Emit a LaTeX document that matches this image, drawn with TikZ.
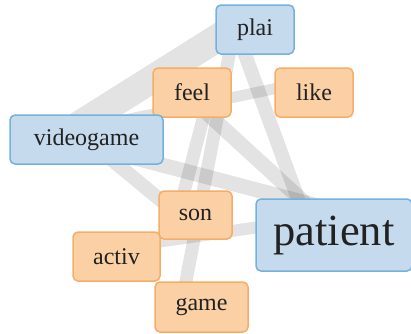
\documentclass[tikz,border=0pt]{standalone}
\usepackage{fontspec}
\setmainfont{Liberation Serif}
\pgfdeclarelayer{background}
\pgfsetlayers{background,main}
\definecolor{bluefill}{HTML}{C6DAEE}
\definecolor{blueline}{HTML}{74B2DC}
\definecolor{orangefill}{HTML}{FAD0A4}
\definecolor{orangeline}{HTML}{F6AD68}
\definecolor{wordcol}{HTML}{222222}
\tikzset{
  termbox/.style={rectangle, rounded corners=5pt, line width=1.5pt, inner sep=0pt,
    text=wordcol, font=\fontsize{24}{28}\selectfont},
  bluebox/.style={termbox, fill=bluefill, draw=blueline},
  orangebox/.style={termbox, fill=orangefill, draw=orangeline},
  link/.style={draw=black, opacity=0.11, line cap=butt},
}
\begin{document}
\begin{tikzpicture}[x=1pt,y=-1pt]
\useasboundingbox (0,0) rectangle (411,333);
% terms
\node[bluebox, minimum width=78pt, minimum height=49pt] (plai) at (255,29.5) {plai};
\node[orangebox, minimum width=78pt, minimum height=49pt] (feel) at (192,92.5) {feel};
\node[orangebox, minimum width=78pt, minimum height=49pt] (like) at (314,92.5) {like};
\node[bluebox, minimum width=153pt, minimum height=49pt] (videogame) at (86.5,139.5) {videogame};
\node[orangebox, minimum width=73pt, minimum height=48pt] (son) at (195.5,215) {son};
\node[orangebox, minimum width=87pt, minimum height=49pt] (activ) at (116.5,256.5) {activ};
\node[orangebox, minimum width=93pt, minimum height=50pt] (game) at (201.5,307) {game};
\node[bluebox, minimum width=156pt, minimum height=72pt, font=\fontsize{44.5}{50}\selectfont] (patient) at (334,235) {patient};
% co-occurrence links
\begin{pgfonlayer}{background}
\draw[link, line width=28pt] ([shift={(-20,-2.5)}]plai.center) -- ([shift={(-26.5,-2.5)}]videogame.center);
\draw[link, line width=13pt] ([shift={(-21,0.5)}]plai.center) -- ([shift={(-20.5,0)}]game.center);
\draw[link, line width=14pt] ([shift={(-19,0.5)}]plai.center) -- ([shift={(-30,-20)}]patient.center);
\draw[link, line width=11pt] ([shift={(0,-12)}]like.center) -- ([shift={(0,-11.5)}]videogame.center);
\draw[link, line width=13pt] ([shift={(18,-0.5)}]feel.center) -- ([shift={(-17.5,0)}]son.center);
\draw[link, line width=15pt] ([shift={(-0.5,5.5)}]videogame.center) -- ([shift={(18,-20)}]patient.center);
\draw[link, line width=14pt] ([shift={(13.5,10.5)}]videogame.center) -- ([shift={(-20.5,-3)}]son.center);
\draw[link, line width=15pt] ([shift={(-8,-0.5)}]feel.center) -- ([shift={(-16,-20)}]patient.center);
\draw[link, line width=12pt] ([shift={(-0.5,-8.5)}]activ.center) -- ([shift={(-34,-14)}]patient.center);
\end{pgfonlayer}
\end{tikzpicture}
\end{document}
